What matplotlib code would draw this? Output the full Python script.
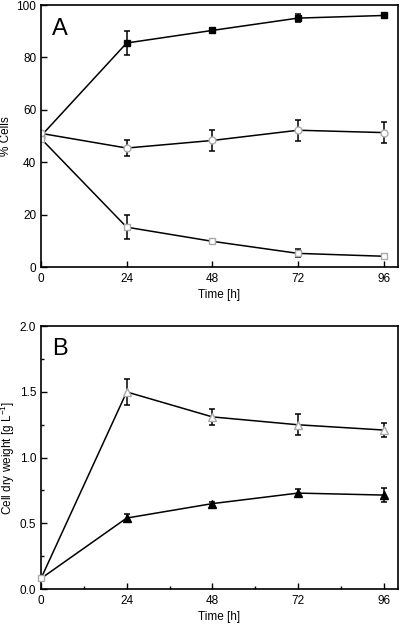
import numpy as np
import matplotlib.pyplot as plt
from matplotlib.ticker import MultipleLocator

plt.rcParams['font.family'] = ['Liberation Sans', 'DejaVu Sans']
plt.rcParams['mathtext.fontset'] = 'custom'
plt.rcParams['mathtext.rm'] = 'Liberation Sans'

# waktu sampling (jam)
time_h = [0, 24, 48, 72, 96]

# Panel A: % sel
closed_sq = [50, 85.5, 90.3, 95, 96]
closed_sq_err = [0, 4.5, 1.0, 1.5, 0.8]
open_circ = [51, 45.4, 48.3, 52.2, 51.3]
open_circ_err = [0, 3.0, 4.0, 4.0, 4.0]
open_sq = [49, 15.2, 9.8, 5.2, 4.1]
open_sq_err = [0, 4.5, 1.0, 1.5, 1.0]

# Panel B: berat kering sel
open_tri = [0.08, 1.50, 1.31, 1.25, 1.21]
open_tri_err = [0, 0.10, 0.06, 0.08, 0.05]
closed_tri = [0.08, 0.54, 0.65, 0.73, 0.715]
closed_tri_err = [0, 0.03, 0.01, 0.03, 0.05]

fig = plt.figure(figsize=(4, 6.25), dpi=100)
axA = fig.add_axes([0.1025, 0.5728, 0.8925, 0.4192])
axB = fig.add_axes([0.1025, 0.0576, 0.8925, 0.4204])

eb = dict(color='black', lw=1.1, capsize=2.5, elinewidth=1.1, capthick=1.1)

axA.errorbar(time_h, closed_sq, yerr=closed_sq_err, marker='s', ms=5,
             mfc='black', mec='black', **eb)
axA.errorbar(time_h, open_circ, yerr=open_circ_err, marker='o', ms=5,
             mfc='white', mec='#aaaaaa', **eb)
axA.errorbar(time_h, open_sq, yerr=open_sq_err, marker='s', ms=5,
             mfc='white', mec='#aaaaaa', **eb)

# titik awal (t=0) hanya penanda terbuka kecil
axB.errorbar(time_h, closed_tri, yerr=closed_tri_err, marker='^', ms=6,
             mfc='black', mec='black', markevery=[1, 2, 3, 4], **eb)
axB.errorbar(time_h, open_tri, yerr=open_tri_err, marker='^', ms=6,
             mfc='white', mec='#aaaaaa', markevery=[1, 2, 3, 4], **eb)
axB.plot(time_h[0], open_tri[0], marker='s', ms=4, mfc='white',
         mec='#aaaaaa', clip_on=False, zorder=5)

for ax in (axA, axB):
    ax.set_xlim(0, 100)
    ax.set_xticks([0, 24, 48, 72, 96])
    ax.tick_params(direction='in', labelsize=8.5, length=4, width=1)
    ax.tick_params(which='minor', direction='in', length=2.5, width=1)
    ax.tick_params(axis='x', pad=4)
    for s in ax.spines.values():
        s.set_linewidth(1.2)
    ax.set_xlabel('Time [h]', fontsize=8.5, labelpad=3)

axA.set_ylim(0, 100)
axA.set_yticks([0, 20, 40, 60, 80, 100])
axA.set_ylabel('% Cells', fontsize=8.5, labelpad=3)
axA.text(3, 91, 'A', fontsize=17, va='center')

axB.set_ylim(0, 2.0)
axB.set_yticks([0, 0.5, 1.0, 1.5, 2.0])
axB.set_yticklabels(['0.0', '0.5', '1.0', '1.5', '2.0'])
axB.yaxis.set_minor_locator(MultipleLocator(0.25))
axB.xaxis.set_minor_locator(MultipleLocator(12))
axB.set_ylabel('Cell dry weight [g L$^{-1}$]', fontsize=8.5, labelpad=2)
axB.text(3, 1.83, 'B', fontsize=17, va='center')

fig.savefig('out.png', dpi=100)
